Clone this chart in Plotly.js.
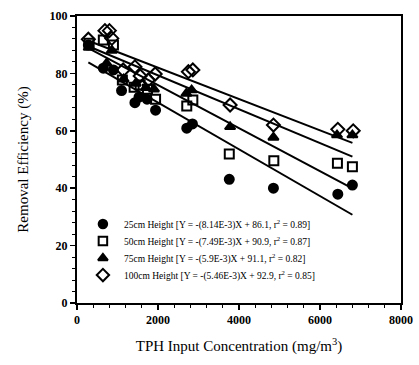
<!DOCTYPE html>
<html>
<head>
<meta charset="utf-8">
<script src="https://cdn.plot.ly/plotly-3.0.1.min.js"></script>
<style>html,body{margin:0;padding:0;background:#fff;}#chart{width:419px;height:365px;}</style>
</head>
<body>
<div id="chart"></div>
<script>
// Data
const x25 = [280, 650, 900, 1100, 1430, 1530, 1730, 1940, 2710, 2850, 3760, 4850, 6440, 6800];
const y25 = [89.9, 81.8, 81.2, 74.0, 69.8, 71.7, 71.0, 67.2, 60.9, 62.4, 43.1, 40.0, 37.9, 41.1];

const x50 = [300, 650, 900, 1120, 1410, 1560, 1740, 1940, 2710, 2860, 3760, 4860, 6430, 6800];
const y50 = [90.5, 91.6, 89.9, 77.7, 75.2, 76.0, 74.5, 71.0, 68.6, 70.7, 51.9, 49.6, 48.7, 47.5];

const x75 = [290, 730, 860, 1150, 1450, 1700, 1900, 2700, 2830, 3780, 4850, 6420, 6800];
const y75 = [89.0, 83.5, 88.0, 78.0, 76.5, 75.0, 74.5, 73.0, 74.2, 61.4, 57.7, 58.5, 58.5];

const x100 = [280, 690, 800, 860, 1140, 1430, 1560, 1760, 1930, 2750, 2860, 3780, 4850, 6440, 6820];
const y100 = [91.9, 94.9, 94.9, 92.2, 81.2, 82.3, 79.1, 77.7, 79.8, 80.6, 81.2, 69.0, 62.0, 60.5, 60.0];

// Regression equations printed in the legend
const seriesNames = [
  "25cm Height [Y = -(8.14E-3)X + 86.1, r<sup>2</sup> = 0.89]",
  "50cm Height [Y = -(7.49E-3)X + 90.9, r<sup>2</sup> = 0.87]",
  "75cm Height [Y = -(5.9E-3)X + 91.1, r<sup>2</sup> = 0.82]",
  "100cm Height [Y = -(5.46E-3)X + 92.9, r<sup>2</sup> = 0.85]"
];
const slopes = [-8.14e-3, -7.49e-3, -5.9e-3, -5.46e-3];
const intercepts = [86.1, 90.9, 91.1, 92.9];
const fitRange = [280, 6800];

const xTicks = [0, 2000, 4000, 6000, 8000];
const yTicks = [0, 20, 40, 60, 80, 100];

const xs = [x25, x50, x75, x100];
const ys = [y25, y50, y75, y100];
const symbols = ["circle", "square-open", "triangle-up", "diamond-open"];
const sizes = [9, 9, 9, 10];

// legend layout (in overlay-axis units, 0..1 over the plot area)
const legX = 0.080, legTextX = 0.139, legY0 = 0.275, legDY = 0.0592;

const font = {family: "Liberation Serif, Times New Roman, serif", color: "#000"};

const traces = [];
for (let i = 0; i < 4; i++) {
  traces.push({
    x: fitRange,
    y: fitRange.map(v => slopes[i] * v + intercepts[i]),
    mode: "lines",
    line: {color: "#000", width: 2},
    showlegend: false,
    hoverinfo: "skip"
  });
}
for (let i = 0; i < 4; i++) {
  traces.push({
    x: xs[i], y: ys[i],
    name: seriesNames[i],
    mode: "markers",
    showlegend: false,
    marker: {symbol: symbols[i], size: sizes[i], color: "#000",
             line: {color: "#000", width: 2}}
  });
}
// custom legend symbols
const annotations = [];
for (let i = 0; i < 4; i++) {
  traces.push({
    x: [legX], y: [legY0 - i * legDY], xaxis: "x2", yaxis: "y2",
    mode: "markers", showlegend: false, hoverinfo: "skip",
    marker: {symbol: symbols[i], size: sizes[i] - 0.5, color: "#000",
             line: {color: "#000", width: 2}}
  });
  annotations.push({
    xref: "x2", yref: "y2", x: legTextX, y: legY0 - i * legDY,
    xanchor: "left", yanchor: "middle", showarrow: false,
    text: seriesNames[i], font: Object.assign({size: 9.5}, font)
  });
}

const layout = {
  width: 419, height: 365,
  margin: {l: 77, r: 18, t: 16, b: 62},
  paper_bgcolor: "#fff", plot_bgcolor: "#fff",
  font: Object.assign({size: 12}, font),
  showlegend: false,
  annotations: annotations,
  xaxis: {
    range: [0, 8000], tickvals: xTicks, ticktext: xTicks.map(String),
    ticks: "outside", ticklen: 5, tickwidth: 1.5, tickcolor: "#000",
    minor: {dtick: 400, ticks: "outside", ticklen: 3, tickcolor: "#000", tickwidth: 1},
    showline: true, linecolor: "#000", linewidth: 2, mirror: true,
    showgrid: false, zeroline: false,
    tickfont: Object.assign({size: 12, weight: "bold"}, font),
    title: {text: "TPH Input Concentration (mg/m<sup>3</sup>)", font: Object.assign({size: 15}, font), standoff: 14}
  },
  yaxis: {
    range: [0, 100], tickvals: yTicks, ticktext: yTicks.map(String),
    ticks: "outside", ticklen: 5, tickwidth: 1.5, tickcolor: "#000",
    minor: {dtick: 4, ticks: "outside", ticklen: 3, tickcolor: "#000", tickwidth: 1},
    showline: true, linecolor: "#000", linewidth: 2, mirror: true,
    showgrid: false, zeroline: false,
    tickfont: Object.assign({size: 12, weight: "bold"}, font),
    title: {text: "Removal Efficiency (%)", font: Object.assign({size: 15}, font), standoff: 17}
  },
  xaxis2: {overlaying: "x", range: [0, 1], visible: false, fixedrange: true},
  yaxis2: {overlaying: "y", range: [0, 1], visible: false, fixedrange: true}
};

Plotly.newPlot("chart", traces, layout, {displayModeBar: false, staticPlot: true});
</script>
</body>
</html>
